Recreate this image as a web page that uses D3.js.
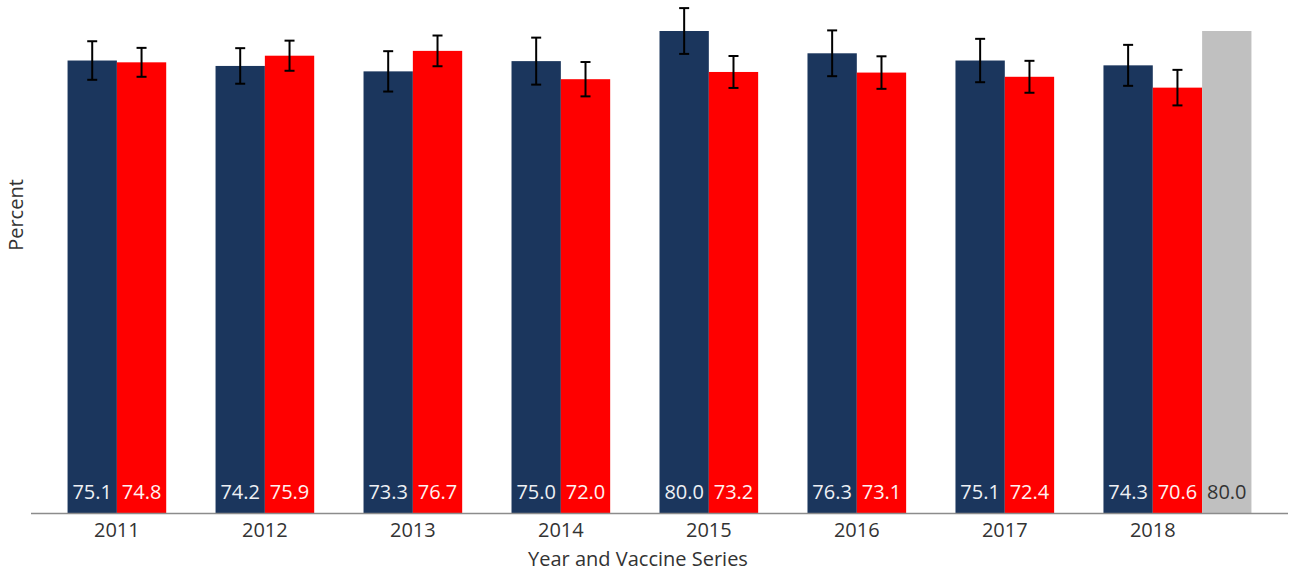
<!DOCTYPE html>
<html>
<head>
<meta charset="utf-8">
<script src="https://cdn.jsdelivr.net/npm/d3@7"></script>
<style>
  body { margin: 0; background: #fff; }
  svg { font-family: "Open Sans", sans-serif; }
</style>
</head>
<body>
<svg id="chart" width="1296" height="573"></svg>
<script>
// years on the x axis
var years = ["2011", "2012", "2013", "2014", "2015", "2016", "2017", "2018"];
// series names
var seriesNames = ["series1", "series2", "target"];
// first series (navy) and its error half-widths
var navyValues = [75.1, 74.2, 73.3, 75.0, 80.0, 76.3, 75.1, 74.3];
var navyErrors = [3.2, 2.95, 3.35, 3.9, 3.8, 3.8, 3.6, 3.4];
// second series (red) and its error half-widths
var redValues = [74.8, 75.9, 76.7, 72.0, 73.2, 73.1, 72.4, 70.6];
var redErrors = [2.4, 2.5, 2.55, 2.85, 2.65, 2.7, 2.65, 2.95];
// target bar, only in 2018
var targetValues = [null, null, null, null, null, null, null, 80.0];

var colors = {series1: "#1b365d", series2: "#ff0000", target: "#c0c0c0"};
var labelColors = {series1: "#eef0f4", series2: "#fff2f2", target: "#333333"};

var svg = d3.select("#chart");

var xScale = d3.scaleBand()
    .domain(years)
    .range([31, 1288])
    .paddingInner(0)
    .paddingOuter(0.247);

var xSub = d3.scaleBand()
    .domain(seriesNames)
    .range([0, xScale.bandwidth()]);

var yScale = d3.scaleLinear()
    .domain([0, 80])
    .range([513, 31]);

var data = [];
years.forEach(function(y, i){
    data.push({year: y, series: "series1", value: navyValues[i], err: navyErrors[i]});
    data.push({year: y, series: "series2", value: redValues[i], err: redErrors[i]});
    if(targetValues[i] !== null){
        data.push({year: y, series: "target", value: targetValues[i], err: null});
    }
});

var groups = svg.selectAll("g.bar")
    .data(data)
    .enter().append("g")
    .attr("class", "bar")
    .attr("transform", function(d){ return "translate(" + (xScale(d.year) + xSub(d.series)) + ",0)"; });

groups.append("rect")
    .attr("x", 0)
    .attr("y", function(d){ return yScale(d.value); })
    .attr("width", xSub.bandwidth())
    .attr("height", function(d){ return yScale(0) - yScale(d.value); })
    .attr("fill", function(d){ return colors[d.series]; });

groups.append("text")
    .attr("x", xSub.bandwidth() / 2)
    .attr("y", yScale(0) - 14)
    .attr("text-anchor", "middle")
    .attr("font-size", "20px")
    .attr("fill", function(d){ return labelColors[d.series]; })
    .text(function(d){ return d.value.toFixed(1); });

// error bars
var eb = groups.filter(function(d){ return d.err !== null; });
var cx = xSub.bandwidth() / 2;
eb.append("line")
    .attr("x1", cx).attr("x2", cx)
    .attr("y1", function(d){ return yScale(d.value + d.err); })
    .attr("y2", function(d){ return yScale(d.value - d.err); })
    .attr("stroke", "#000").attr("stroke-width", 2);
eb.append("line")
    .attr("x1", cx - 5).attr("x2", cx + 5)
    .attr("y1", function(d){ return yScale(d.value + d.err); })
    .attr("y2", function(d){ return yScale(d.value + d.err); })
    .attr("stroke", "#000").attr("stroke-width", 2);
eb.append("line")
    .attr("x1", cx - 5).attr("x2", cx + 5)
    .attr("y1", function(d){ return yScale(d.value - d.err); })
    .attr("y2", function(d){ return yScale(d.value - d.err); })
    .attr("stroke", "#000").attr("stroke-width", 2);

// x axis
var axis = svg.append("g")
    .attr("transform", "translate(0," + yScale(0) + ")");
axis.append("line")
    .attr("x1", xScale.range()[0]).attr("x2", xScale.range()[1])
    .attr("y1", 0.5).attr("y2", 0.5)
    .attr("stroke", "#8c8c8c").attr("stroke-width", 1.5);
axis.selectAll("text.year")
    .data(years)
    .enter().append("text")
    .attr("class", "year")
    .attr("x", function(d){ return xScale(d) + xSub.bandwidth(); })
    .attr("y", 24)
    .attr("text-anchor", "middle")
    .attr("font-size", "20px")
    .attr("fill", "#333")
    .text(function(d){ return d; });

svg.append("text")
    .attr("x", 638)
    .attr("y", 566)
    .attr("text-anchor", "middle")
    .attr("font-size", "20px")
    .attr("fill", "#333")
    .text("Year and Vaccine Series");

svg.append("text")
    .attr("transform", "translate(23,215) rotate(-90)")
    .attr("text-anchor", "middle")
    .attr("font-size", "20px")
    .attr("fill", "#333")
    .text("Percent");
</script>
</body>
</html>
